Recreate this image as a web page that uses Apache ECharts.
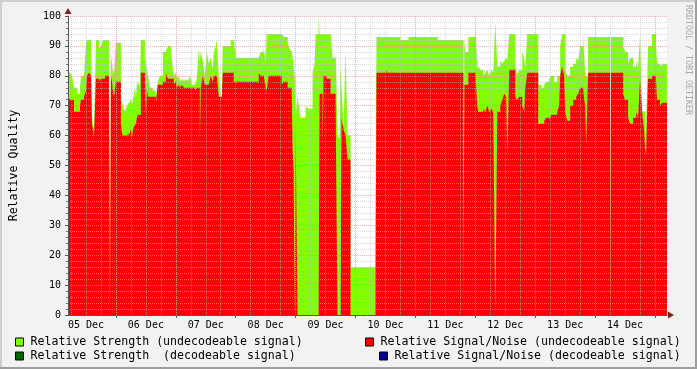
<!DOCTYPE html>
<html>
<head>
<meta charset="utf-8">
<script src="https://cdn.jsdelivr.net/npm/echarts@6/dist/echarts.min.js"></script>
<style>
html,body{margin:0;padding:0;background:#f2f2f2;}
#chart{width:697px;height:369px;}
</style>
</head>
<body>
<div id="chart"></div>
<script>
// Hours since 05 Dec 00:00 at which each sample (step) begins
const times = [
  4.8, 5.6, 6.4, 7.2, 8.4, 9.6, 10, 11.2, 12, 12.4,
  13.2, 14, 14.4, 14.8, 15.2, 16, 17.2, 18, 18.8, 19.6,
  21.2, 21.6, 22, 22.4, 22.8, 23.2, 24, 26, 26.4, 26.8,
  27.6, 28.4, 28.8, 29.2, 30, 30.4, 30.8, 31.2, 31.6, 32,
  32.4, 32.8, 33.6, 34, 35.6, 36, 36.4, 36.8, 37.6, 38.8,
  40, 40.8, 41.6, 42.8, 44, 44.8, 46, 46.4, 47.2, 48,
  48.4, 49.2, 49.6, 50.4, 51.2, 52, 52.8, 53.6, 54.4, 55.6,
  56.4, 57.2, 57.6, 58, 58.8, 59.6, 60.4, 61.2, 62, 62.8,
  63.2, 64, 64.4, 65.2, 66, 66.4, 66.8, 70, 71.2, 72,
  81.2, 82, 83.2, 84, 84.4, 85.2, 90.4, 91.2, 92.8, 93.6,
  94.4, 94.8, 95.2, 95.6, 96, 96.8, 97.6, 98, 100, 100.8,
  102.8, 103.6, 104, 105.2, 105.6, 106.8, 107.2, 108.4, 110, 110.8,
  112, 112.8, 113.6, 114, 114.4, 115.2, 116, 116.8, 118, 128,
  128.4, 132.4, 132.8, 138, 141.2, 152.8, 163.2, 163.6, 164, 165.2,
  168, 168.8, 169.2, 170, 171.2, 172, 172.8, 173.6, 174.4, 175.2,
  176, 176.8, 178, 178.8, 179.6, 180.4, 180.8, 181.6, 184, 184.8,
  185.6, 186.8, 187.6, 188, 188.8, 193.2, 194.4, 195.6, 196.4, 197.6,
  198.4, 199.6, 200.8, 201.6, 202, 202.8, 203.6, 204, 204.8, 206,
  207.2, 208.4, 209.2, 210, 211.2, 212, 212.4, 213.2, 222, 222.4,
  227.2, 228, 229.2, 230, 231.2, 232.4, 233.2, 234, 234.8, 235.6,
  236, 236.4, 237.2, 238.8, 240.4, 240.8, 242, 242.8
];
const endTime = 244.8;

// Relative Strength (undecodeable signal)
const strength = [
  82, 81, 80, 76, 74, 76, 80, 80, 91, 92,
  92, 92, 66, 64, 62, 92, 89, 90, 92, 92,
  92, 4, 87, 84, 81, 80, 91, 72, 71, 70,
  68, 70, 70, 71, 72, 70, 72, 74, 76, 72,
  77, 78, 76, 92, 86, 86, 82, 80, 76, 75,
  73, 78, 80, 88, 88, 90, 90, 85, 80, 81,
  79, 80, 78, 79, 78, 79, 78, 80, 77, 77,
  79, 89, 85, 88, 85, 80, 88, 84, 86, 82,
  88, 90, 92, 80, 73, 72, 90, 92, 92, 86,
  86, 88, 90, 84, 94, 94, 94, 93, 91, 89,
  88, 86, 86, 80, 66, 73, 68, 66, 70, 69,
  81, 84, 94, 100, 94, 94, 94, 94, 94, 86,
  90, 60, 59, 84, 76, 63, 88, 60, 16, 33,
  93, 93, 93, 92, 93, 92, 16, 92, 88, 93,
  96, 82, 83, 82, 80, 81, 82, 80, 82, 81,
  98, 83, 85, 84, 85, 86, 85, 94, 84, 80,
  82, 88, 86, 82, 94, 77, 76, 77, 78, 79,
  80, 78, 80, 80, 90, 94, 94, 82, 80, 83,
  84, 86, 85, 90, 94, 80, 80, 93, 0, 93,
  90, 88, 84, 86, 83, 85, 82, 94, 68, 68,
  68, 60, 90, 94, 90, 84, 83, 84
];

// Relative Signal/Noise (undecodeable signal)
const snr = [
  73, 72, 72, 68, 68, 70, 72, 73, 75, 80,
  81, 80, 64, 62, 59, 79, 78, 79, 79, 80,
  80, 0, 80, 78, 75, 73, 78, 64, 61, 60,
  60, 59, 61, 60, 62, 59, 62, 63, 63, 64,
  66, 67, 67, 81, 80, 67, 76, 73, 73, 73,
  71, 77, 77, 78, 81, 79, 79, 79, 77, 78,
  76, 77, 76, 77, 76, 76, 76, 76, 76, 75,
  76, 76, 57, 76, 80, 77, 77, 77, 80, 78,
  80, 80, 80, 73, 73, 72, 81, 81, 78, 78,
  81, 80, 80, 76, 75, 80, 77, 78, 76, 76,
  76, 55, 48, 0, 61, 0, 0, 0, 0, 0,
  0, 0, 0, 0, 74, 56, 80, 79, 74, 74,
  72, 0, 0, 0, 66, 62, 60, 52, 0, 9,
  81, 82, 81, 81, 81, 81, 0, 77, 77, 81,
  81, 70, 68, 68, 69, 68, 70, 68, 69, 68,
  0, 68, 70, 72, 74, 73, 53, 82, 73, 72,
  73, 70, 68, 76, 81, 64, 64, 65, 66, 65,
  67, 67, 68, 70, 80, 83, 80, 68, 65, 70,
  72, 73, 74, 76, 75, 70, 57, 81, 0, 81,
  74, 72, 66, 64, 66, 68, 66, 79, 68, 62,
  56, 53, 79, 80, 79, 72, 70, 71
];

// Decodeable-signal series: no samples in this period
const strengthDecodeable = [];
const snrDecodeable = [];

const seriesNames = [
  'Relative Strength (undecodeable signal)',
  'Relative Signal/Noise (undecodeable signal)',
  'Relative Strength  (decodeable signal)',
  'Relative Signal/Noise (decodeable signal)'
];

// x axis: minor grid every 6h, major grid at midnight, labels centred at noon
const minorTicks = [6, 12, 18, 24, 30, 36, 42, 48, 54, 60, 66, 72, 78, 84, 90, 96, 102, 108, 114, 120,
  126, 132, 138, 144, 150, 156, 162, 168, 174, 180, 186, 192, 198, 204, 210, 216, 222, 228, 234, 240];
const majorTicks = [24, 48, 72, 96, 120, 144, 168, 192, 216, 240];
const labelTimes = [12, 36, 60, 84, 108, 132, 156, 180, 204, 228];
const dayLabels = ['05 Dec', '06 Dec', '07 Dec', '08 Dec', '09 Dec', '10 Dec', '11 Dec', '12 Dec', '13 Dec', '14 Dec'];
const startTime = 4.8;

function toSeries(vals) {
  const d = times.map((t, i) => [t, vals[i]]);
  d.push([endTime, vals[vals.length - 1]]);
  return d;
}

const MONO = "'DejaVu Sans Mono', monospace";
const minorLine = { show: true, lineStyle: { color: 'rgba(190,190,190,0.55)', width: 1, type: [1, 1] } };
const majorLine = { show: true, lineStyle: { color: 'rgba(230,140,140,0.6)', width: 1, type: [1, 1] } };

const chart = echarts.init(document.getElementById('chart'), null, { renderer: 'canvas' });

function legendFor(i, left, top) {
  return {
    data: [seriesNames[i]], left: left, top: top, padding: 0, icon: 'rect',
    itemWidth: 8, itemHeight: 8, selectedMode: false,
    itemStyle: { borderColor: '#000', borderWidth: 1 },
    textStyle: { fontFamily: MONO, fontSize: 11.6, color: '#000', padding: [0, 0, 0, 2] }
  };
}

const option = {
  animation: false,
  backgroundColor: '#f2f2f2',
  grid: { left: 67, right: 30, top: 16, bottom: 54, show: true, backgroundColor: '#ffffff', borderWidth: 0 },
  xAxis: [
    {
      type: 'value', min: startTime, max: endTime, position: 'bottom', z: 5,
      axisLine: { show: true, lineStyle: { color: '#555', width: 1 } },
      axisTick: { show: false, customValues: minorTicks },
      axisLabel: { show: false },
      splitLine: minorLine
    },
    {
      type: 'value', min: startTime, max: endTime, position: 'bottom', z: 5,
      axisLine: { show: false },
      axisTick: { show: true, customValues: majorTicks, length: 3, lineStyle: { color: '#555' } },
      axisLabel: {
        show: true, customValues: labelTimes, margin: 5,
        fontFamily: MONO, fontSize: 10, color: '#000',
        formatter: function (v) { const i = labelTimes.indexOf(Math.round(v)); return i >= 0 ? dayLabels[i] : ''; }
      },
      splitLine: majorLine
    },
    {
      type: 'value', min: startTime, max: endTime, position: 'bottom', z: 6,
      axisLine: { show: true, symbol: ['none', 'triangle'], symbolSize: [7, 6], symbolOffset: [0, 4],
        lineStyle: { color: '#801f1f', width: 0.01 } },
      axisTick: { show: false }, axisLabel: { show: false }, splitLine: { show: false }
    }
  ],
  yAxis: [
    {
      type: 'value', min: 0, max: 100, interval: 10, z: 5, position: 'left',
      name: 'Relative Quality', nameLocation: 'middle', nameGap: 48,
      nameTextStyle: { fontFamily: MONO, fontSize: 11.6, color: '#000' },
      axisLine: { show: true, lineStyle: { color: '#555', width: 1 } },
      axisTick: { show: true, length: 3, lineStyle: { color: '#555' } },
      minorTick: { show: true, splitNumber: 5, length: 2, lineStyle: { color: '#777' } },
      axisLabel: { fontFamily: MONO, fontSize: 10, color: '#000', margin: 7 },
      splitLine: majorLine,
      minorSplitLine: minorLine
    },
    {
      type: 'value', min: 0, max: 100, z: 6, position: 'left', offset: 0,
      axisLine: { show: true, symbol: ['none', 'triangle'], symbolSize: [7, 6], symbolOffset: [0, 5],
        lineStyle: { color: '#801f1f', width: 0.01 } },
      axisTick: { show: false }, axisLabel: { show: false }, splitLine: { show: false }
    }
  ],
  legend: [
    legendFor(0, 15, 336),
    legendFor(1, 365, 336),
    legendFor(2, 15, 350),
    legendFor(3, 379, 350)
  ],
  graphic: [
    { type: 'rect', shape: { x: 0, y: 0, width: 697, height: 2 }, style: { fill: '#cfcfcf' }, silent: true },
    { type: 'rect', shape: { x: 0, y: 0, width: 2, height: 369 }, style: { fill: '#cfcfcf' }, silent: true },
    { type: 'rect', shape: { x: 0, y: 367, width: 697, height: 2 }, style: { fill: '#9e9e9e' }, silent: true },
    { type: 'rect', shape: { x: 695, y: 0, width: 2, height: 369 }, style: { fill: '#9e9e9e' }, silent: true },
    {
      type: 'text', x: 688, y: 5, rotation: -Math.PI / 2, silent: true,
      style: { text: 'RRDTOOL / TOBI OETIKER', fill: '#a8a8a8', font: "8.3px 'DejaVu Sans Mono', monospace",
        textAlign: 'left', textVerticalAlign: 'middle' }
    }
  ],
  series: [
    {
      name: seriesNames[0], type: 'line', step: 'end', symbol: 'none', z: 2,
      data: toSeries(strength),
      lineStyle: { width: 0, color: '#7fff00' }, itemStyle: { color: '#7fff00' },
      areaStyle: { color: '#7fff00', opacity: 1 }
    },
    {
      name: seriesNames[1], type: 'line', step: 'end', symbol: 'none', z: 3,
      data: toSeries(snr),
      lineStyle: { width: 0, color: '#ff0000' }, itemStyle: { color: '#ff0000' },
      areaStyle: { color: '#ff0000', opacity: 1 }
    },
    {
      name: seriesNames[2], type: 'line', step: 'end', symbol: 'none',
      data: strengthDecodeable,
      lineStyle: { width: 0, color: '#006600' }, itemStyle: { color: '#006600' },
      areaStyle: { color: '#006600', opacity: 1 }
    },
    {
      name: seriesNames[3], type: 'line', step: 'end', symbol: 'none',
      data: snrDecodeable,
      lineStyle: { width: 0, color: '#000090' }, itemStyle: { color: '#000090' },
      areaStyle: { color: '#000090', opacity: 1 }
    }
  ]
};
chart.setOption(option);
</script>
</body>
</html>
